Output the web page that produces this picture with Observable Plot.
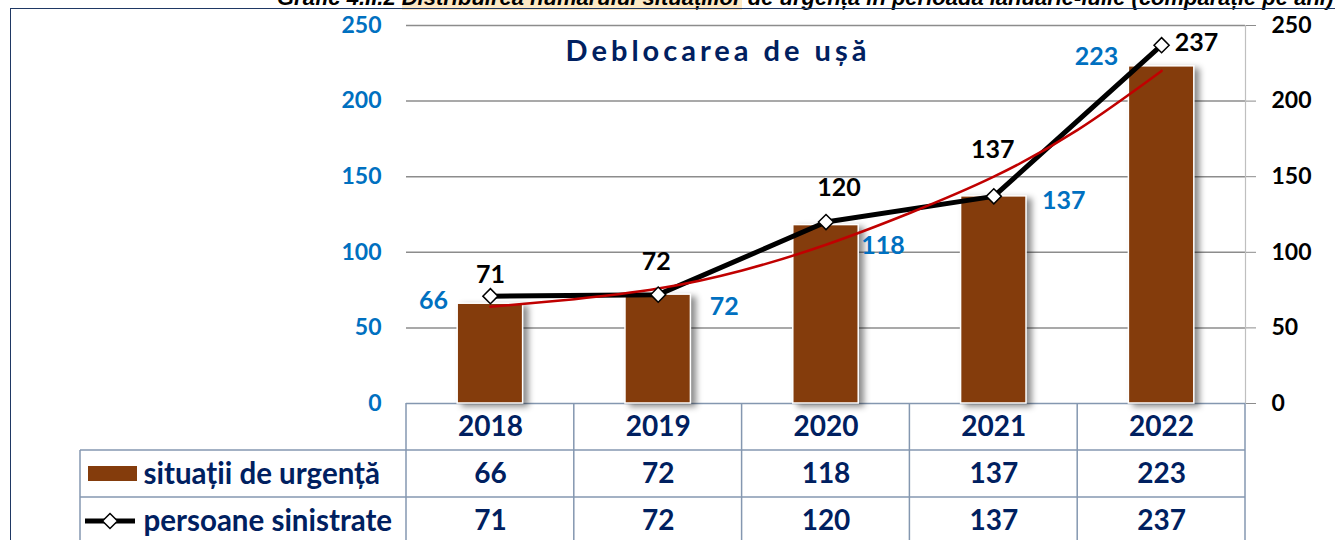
<!DOCTYPE html>
<html><head><meta charset="utf-8">
<script src="https://cdn.jsdelivr.net/npm/d3@7"></script>
<script src="https://cdn.jsdelivr.net/npm/@observablehq/plot@0.6"></script>
<style>
html,body{margin:0;padding:0;background:#fff;overflow:hidden;}
#wrap{position:relative;width:1335px;height:540px;overflow:hidden;background:#fff;}
#doc-title{position:absolute;left:277px;top:-15px;white-space:nowrap;font:italic bold 22px "Liberation Sans",Arial,sans-serif;color:#000;z-index:1;}
#doc-title .hl{background:#fde9c4;}
#frame{position:absolute;left:10px;top:8px;width:1400px;height:600px;border-left:1.5px solid #1f3864;border-top:1.5px solid #1f3864;z-index:2;}
#chart{position:absolute;left:0;top:0;z-index:3;}
</style></head>
<body>
<div id="wrap">
  <div id="doc-title">Grafic 4.II.2 <span class="hl">Distribuirea numărului situațiilor</span> de urgență în perioada ianuarie-iulie (comparație pe ani)</div>
  <div id="frame"></div>
  <div id="chart"></div>
</div>
<script>
// ---- data ----
const years = [2018, 2019, 2020, 2021, 2022];
const situatiiUrgenta = [66, 72, 118, 137, 223];
const persoaneSinistrate = [71, 72, 120, 137, 237];
const trendYears = [2018, 2018.5, 2019, 2019.5, 2020, 2020.5, 2021, 2021.5, 2022];
const trendValues = [64, 69, 76, 88, 105, 126, 150, 181, 220];
const yTicks = [0, 50, 100, 150, 200, 250];
const seriesLabels = ["situații de urgență", "persoane sinistrate"];
const chartTitle = "Deblocarea de ușă";

// ---- derived tables ----
const bars = years.map((year, i) => ({year, value: situatiiUrgenta[i]}));
const persons = years.map((year, i) => ({year, value: persoaneSinistrate[i]}));
const trend = trendYears.map((year, i) => ({year, value: trendValues[i]}));

// ---- styles / layout ----
const NAVY = "#002060", BLUE = "#0070c0", BROWN = "#843c0c", GRID = "#8c8c8c", TABLE = "#8497b0";
const FONT = "Lato, 'Open Sans', sans-serif";
const HALF = 0.195;
const barLabelOffsets = [[-57, -3], [66, 12], [57, 21], [70, 5], [-65, -9]];
const lineLabelOffsets = [[0, -21], [-2, -33], [13, -34], [-1, -46], [35, -2]];

function tableMark(index, scales, values, dim) {
  const sx = scales.x;
  const g = d3.create("svg:g");
  const bottom = dim.height - dim.marginBottom; // 403
  const right = dim.width - dim.marginRight;
  const edges = [2017.5, 2018.5, 2019.5, 2020.5, 2021.5, 2022.5];
  edges.forEach(e => {
    g.append("line").attr("x1", sx(e)).attr("x2", sx(e)).attr("y1", bottom).attr("y2", dim.height + 5)
      .attr("stroke", TABLE).attr("stroke-width", 1.5);
  });
  [bottom + 47, bottom + 94].forEach(yy => {
    g.append("line").attr("x1", 80).attr("x2", right).attr("y1", yy).attr("y2", yy)
      .attr("stroke", TABLE).attr("stroke-width", 1.5);
  });
  g.append("line").attr("x1", 80).attr("x2", 80).attr("y1", bottom + 47).attr("y2", dim.height + 5)
    .attr("stroke", TABLE).attr("stroke-width", 1.5);
  // legend symbols
  g.append("rect").attr("x", 88).attr("y", bottom + 63).attr("width", 49).attr("height", 15).attr("fill", BROWN);
  g.append("line").attr("x1", 85).attr("x2", 135).attr("y1", bottom + 118).attr("y2", bottom + 118)
    .attr("stroke", "black").attr("stroke-width", 5);
  g.append("path").attr("d", d3.symbol(d3.symbolDiamond2 || d3.symbolDiamond, 145)())
    .attr("transform", `translate(110,${bottom + 118})`)
    .attr("fill", "white").attr("stroke", "black").attr("stroke-width", 1.5);
  return g.node();
}

const txt = {fontFamily: FONT, fontWeight: "bold", lineAnchor: "middle"};

const marks = [
  Plot.gridY({ticks: yTicks.slice(1), stroke: GRID, strokeOpacity: 1, strokeWidth: 1.5}),
  Plot.ruleX([2022.5], {stroke: "#bfbfbf", strokeWidth: 1.2}),
  Plot.axisY({anchor: "left", ticks: yTicks, tickSize: 0, tickPadding: 25, label: null,
    fill: BLUE, fontSize: 23, fontWeight: "bold", fontFamily: FONT}),
  Plot.axisY({anchor: "right", ticks: yTicks, tickSize: 10, tickPadding: 16, label: null,
    stroke: GRID, fill: "black", fontSize: 23, fontWeight: "bold", fontFamily: FONT}),
  tableMark,
  Plot.ruleY([0], {stroke: TABLE, strokeWidth: 1.5}),
  Plot.rectY(bars, {x1: d => d.year - HALF, x2: d => d.year + HALF, y: "value",
    fill: BROWN, stroke: "white", strokeWidth: 1.5}),
  Plot.line(persons, {x: "year", y: "value", stroke: "black", strokeWidth: 5}),
  Plot.line(trend, {x: "year", y: "value", stroke: "#c00000", strokeWidth: 2.5, curve: "natural"}),
  Plot.dot(persons, {x: "year", y: "value", symbol: "diamond2", r: 6.8, fill: "white", stroke: "black", strokeWidth: 1.5}),
  ...bars.map((d, i) => Plot.text([d], {x: "year", y: "value", text: d => String(d.value),
    dx: barLabelOffsets[i][0], dy: barLabelOffsets[i][1], fill: BLUE, fontSize: 25, ...txt})),
  ...persons.map((d, i) => Plot.text([d], {x: "year", y: "value", text: d => String(d.value),
    dx: lineLabelOffsets[i][0], dy: lineLabelOffsets[i][1], fill: "black", fontSize: 25, ...txt})),
  Plot.text([chartTitle], {frameAnchor: "top", dx: -108, dy: 26, fill: NAVY, fontSize: 29, ...txt}),
  // data table
  Plot.text(years, {x: d => d, text: d => String(d), frameAnchor: "bottom", dy: 24, fill: NAVY, fontSize: 28, ...txt}),
  Plot.text(bars, {x: "year", text: d => String(d.value), frameAnchor: "bottom", dy: 71, fill: NAVY, fontSize: 28, ...txt}),
  Plot.text(persons, {x: "year", text: d => String(d.value), frameAnchor: "bottom", dy: 118, fill: NAVY, fontSize: 28, ...txt}),
  Plot.text([seriesLabels[0]], {frameAnchor: "bottom-left", dx: -263, dy: 71, textAnchor: "start", fill: NAVY, fontSize: 29.5, ...txt}),
  Plot.text([seriesLabels[1]], {frameAnchor: "bottom-left", dx: -263, dy: 118, textAnchor: "start", fill: NAVY, fontSize: 29.5, ...txt})
];

const chart = Plot.plot({
  width: 1335, height: 540,
  marginLeft: 406, marginRight: 90, marginTop: 25, marginBottom: 137,
  x: {domain: [2017.5, 2022.5], axis: null},
  y: {domain: [0, 250], axis: null},
  style: {fontFamily: FONT, background: "transparent", overflow: "visible"},
  marks
});
document.getElementById("chart").appendChild(chart);

// bar drop shadow, title letter spacing
d3.select(chart).selectAll('g[aria-label="rect"]').style("filter", "drop-shadow(5px 3px 3px rgba(0,0,0,0.45))");
d3.select(chart).selectAll("text").filter(function() { return this.textContent === chartTitle; })
  .style("letter-spacing", "4px");
</script>
</body></html>
